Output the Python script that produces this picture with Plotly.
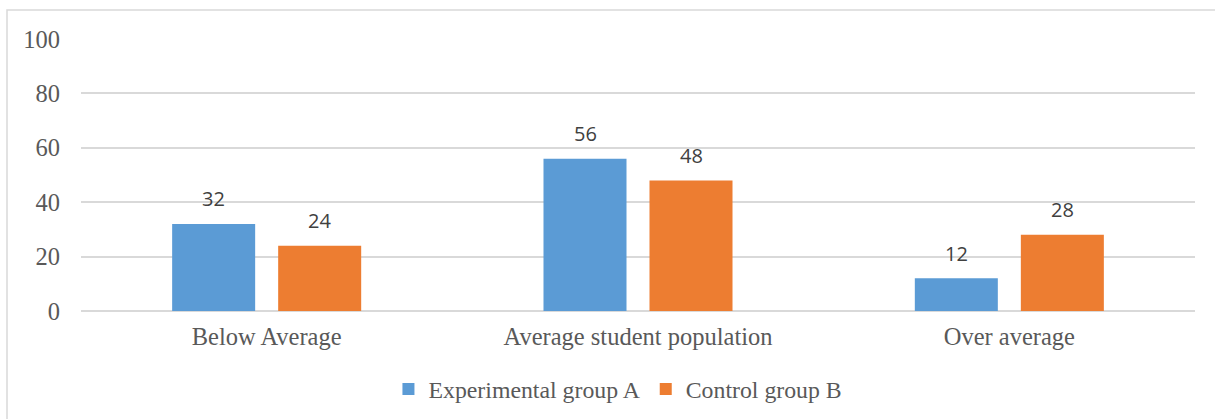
import plotly.graph_objects as go

categories = ["Below Average", "Average student population", "Over average"]
group_a = [32, 56, 12]
group_b = [24, 48, 28]
series_names = ["Experimental group A", "Control group B"]
y_ticks = [0, 20, 40, 60, 80, 100]

blue = "#5B9BD5"
orange = "#ED7D31"
serif = "Liberation Serif, Times New Roman, serif"
text_size = 24.5

fig = go.Figure()
fig.add_trace(go.Bar(name=series_names[0], x=categories, y=group_a,
                     marker=dict(color=blue, line=dict(width=0))))
fig.add_trace(go.Bar(name=series_names[1], x=categories, y=group_b,
                     marker=dict(color=orange, line=dict(width=0))))

# value labels above each bar
for vals, shift in ((group_a, -53), (group_b, 53)):
    for cat, v in zip(categories, vals):
        fig.add_annotation(x=cat, y=v, xref="x", yref="y", text=str(v),
                           showarrow=False, xshift=shift, yshift=25,
                           yanchor="middle",
                           font=dict(family="Open Sans, sans-serif", size=20, color="#404040"))

# outer chart border
fig.add_shape(type="rect", xref="paper", yref="paper",
              x0=(7 - 81) / 1114, x1=1.2, y0=-0.6, y1=1 + 29 / 272,
              line=dict(color="#d9d9d9", width=1.5), fillcolor="rgba(0,0,0,0)")

fig.update_layout(
    width=1215, height=419,
    margin=dict(l=81, r=20, t=39, b=108, autoexpand=False),
    paper_bgcolor="white", plot_bgcolor="white",
    barmode="group", bargap=0.429, bargroupgap=0.217,
    font=dict(family=serif, size=text_size, color="#595959"),
    legend=dict(orientation="h", x=0.482, xanchor="center", y=-0.287, yanchor="middle",
                font=dict(family=serif, size=23.8, color="#595959"),
                itemwidth=30, tracegroupgap=0),
    showlegend=True,
)
fig.update_xaxes(showgrid=False, showline=False, ticks="", ticklabelstandoff=8,
                 automargin=False,
                 tickfont=dict(family=serif, size=text_size, color="#595959"))
fig.update_yaxes(range=[0, 100], tickvals=y_ticks, showgrid=True, gridcolor="#d9d9d9",
                 gridwidth=1.5, zeroline=True, zerolinecolor="#d9d9d9", zerolinewidth=1.5,
                 showline=False, ticks="", ticklabelstandoff=20, automargin=False,
                 tickfont=dict(family=serif, size=text_size, color="#595959"))

fig.write_html("out.html")
